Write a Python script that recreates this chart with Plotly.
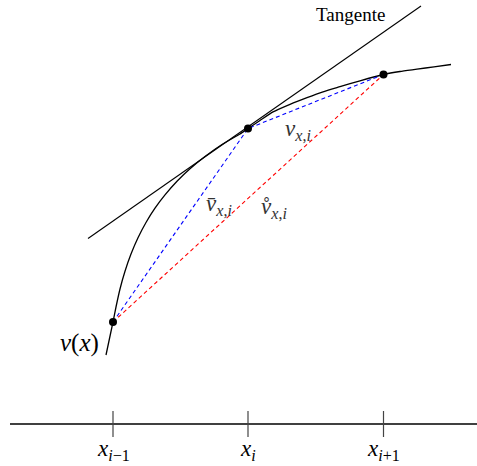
import plotly.graph_objects as go

# Coordinates: horizontal position and height (pixels, height = up)
curve_x = [106, 113, 116, 120, 125, 131, 138, 146, 155, 165, 177, 190, 205, 222, 240, 248,
           260, 273, 290, 307, 323, 340, 360, 383.5, 400, 417, 434, 451]
curve_y = [111, 144, 159, 177, 194.7, 211.9, 228.2, 243.5, 257.8, 271.1, 284.7, 297.2, 309.5, 321.5, 332, 337.5,
           345.5, 354.1, 361.7, 368.4, 374.2, 379.3, 385.2, 391.5, 394.5, 396.8, 399.2, 401.5]

node_x = [113, 248, 383.5]
node_y = [144, 337.5, 391.5]

tangent_x = [88, 421]
tangent_y = [227.5, 460]

axis_x = [10, 477]
axis_level = 42
tick_low, tick_high = 29, 55
tick_labels = ["<i>x</i><sub><i>i</i>−1</sub>", "<i>x</i><sub><i>i</i></sub>", "<i>x</i><sub><i>i</i>+1</sub>"]

SERIF = "Liberation Serif"

fig = go.Figure()

fig.add_trace(go.Scatter(x=curve_x, y=curve_y, mode="lines", line=dict(color="black", width=1.3, shape="spline", smoothing=0.5), hoverinfo="skip"))
fig.add_trace(go.Scatter(x=tangent_x, y=tangent_y, mode="lines", line=dict(color="black", width=1.1), hoverinfo="skip"))
fig.add_trace(go.Scatter(x=node_x, y=node_y, mode="lines", line=dict(color="blue", width=1.1, dash="4px,3px"), hoverinfo="skip"))
fig.add_trace(go.Scatter(x=[node_x[0], node_x[2]], y=[node_y[0], node_y[2]], mode="lines", line=dict(color="red", width=1.1, dash="4px,3px"), hoverinfo="skip"))
fig.add_trace(go.Scatter(x=node_x, y=node_y, mode="markers", marker=dict(color="black", size=8), hoverinfo="skip"))
fig.add_trace(go.Scatter(x=axis_x, y=[axis_level, axis_level], mode="lines", line=dict(color="black", width=1.3), hoverinfo="skip"))
for tx in node_x:
    fig.add_trace(go.Scatter(x=[tx, tx], y=[tick_low, tick_high], mode="lines", line=dict(color="#444444", width=1.2), hoverinfo="skip"))

for tx, lab in zip(node_x, tick_labels):
    fig.add_annotation(x=tx, y=16, text=lab, showarrow=False, xanchor="center", yanchor="middle",
                       font=dict(family=SERIF, size=23, color="black"))

fig.add_annotation(x=350, y=452, text="Tangente", showarrow=False, xanchor="center", yanchor="middle",
                   font=dict(family=SERIF, size=19, color="black"))
fig.add_annotation(x=79, y=123, text="<i>v</i>(<i>x</i>)", showarrow=False, xanchor="center", yanchor="middle",
                   font=dict(family=SERIF, size=25, color="black"))
fig.add_annotation(x=298, y=336, text="<i>v</i><sub><i>x</i>,<i>i</i></sub>", showarrow=False, xanchor="center", yanchor="middle",
                   font=dict(family=SERIF, size=23, color="#333333"))
fig.add_annotation(x=219, y=261, text="<i>v\u0304</i><sub><i>x</i>,<i>i</i></sub>", showarrow=False, xanchor="center", yanchor="middle",
                   font=dict(family=SERIF, size=23, color="#333333"))
fig.add_annotation(x=274, y=258, text="<i>v\u030a</i><sub><i>x</i>,<i>i</i></sub>", showarrow=False, xanchor="center", yanchor="middle",
                   font=dict(family=SERIF, size=23, color="#333333"))

fig.update_layout(
    width=477, height=466,
    margin=dict(l=0, r=0, t=0, b=0),
    paper_bgcolor="white", plot_bgcolor="white",
    showlegend=False,
    xaxis=dict(range=[0, 477], visible=False, fixedrange=True),
    yaxis=dict(range=[0, 466], visible=False, fixedrange=True),
)

fig.write_html("out.html", config={"displayModeBar": False},
               post_script="document.body.style.margin='0';document.body.style.overflow='hidden';")
